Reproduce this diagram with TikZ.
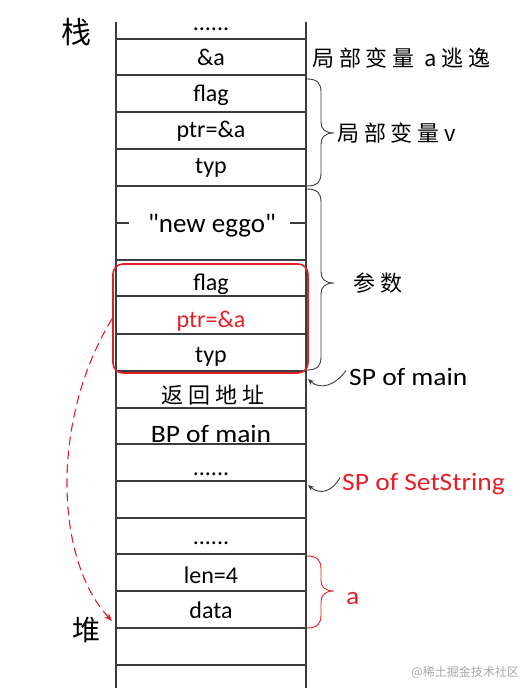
\documentclass[tikz,border=0pt]{standalone}
\usepackage{fontspec}
\setmainfont{Carlito}
\newfontfamily\widefont[FakeStretch=1.1]{Carlito}
\newfontfamily\eggfont{Carlito}
\newfontfamily\cjk{Noto Sans CJK SC}
\newfontfamily\cjkls[LetterSpace=22]{Noto Sans CJK SC}
\usetikzlibrary{arrows.meta}
\definecolor{myred}{RGB}{228,32,38}
\definecolor{myline}{RGB}{60,60,60}
\newcommand{\stackbrace}[4][]{%
  \draw[myline,line width=0.9bp,#1] (307,#2) .. controls (318,#2) and (321,{#2+5}) .. (321,{#2+13})
    -- (321,{#4-11}) .. controls (321,{#4-4}) and (325,#4) .. (334,#4)
    .. controls (325,#4) and (321,{#4+4}) .. (321,{#4+11})
    -- (321,{#3-13}) .. controls (321,{#3-5}) and (318,#3) .. (307,#3);}
\begin{document}
\begin{tikzpicture}[x=1bp,y=-1bp,
  cell/.style={font=\fontsize{24bp}{27bp}\selectfont, inner sep=0pt, anchor=base},
  lab/.style={font=\widefont\fontsize{25bp}{28bp}\selectfont, inner sep=0pt, anchor=base west},
  cjklab/.style={font=\cjkls\fontsize{22bp}{26bp}\selectfont, inner sep=0pt, anchor=west},
  grid/.style={draw=myline, line width=1.1bp},
  sparrow/.style={draw=myline, line width=0.9bp, -{Stealth[length=6bp,width=5bp]}}]
\useasboundingbox (0,0) rectangle (521,694);
% stack frame
\draw[grid] (116,22) -- (116,688);
\draw[grid] (306,22) -- (306,688);
\foreach \y in {39,75,112,149,186,260,296,334,371,408,444,481,518,554,591,628,665}
  \draw[grid] (116,\y) -- (306,\y);
\draw[grid] (116,223) -- (129,223);
\draw[grid] (290,223) -- (306,223);
% side labels
\node[font=\cjk\fontsize{30bp}{34bp}\selectfont, inner sep=0pt] (zhan) at (76,32) {栈};
\node[font=\cjk\fontsize{28bp}{32bp}\selectfont, inner sep=0pt] (dui) at (86,630) {堆};
% cells
\node[cell] (d1) at (211,31) {......};
\node[cell] (c1) at (211,66) {\&a};
\node[cell] (c2) at (211,102) {flag};
\node[cell] (c3) at (211,138) {ptr=\&a};
\node[cell] (c4) at (211,173) {typ};
\node[cell, font=\eggfont\fontsize{27bp}{30bp}\selectfont] (egg) at (212,232) {"new eggo"};
\node[cell] (f2) at (211,290) {flag};
\node[cell, text=myred] (p2) at (211,327) {ptr=\&a};
\node[cell] (t2) at (211,362) {typ};
\node[font=\cjkls\fontsize{22bp}{26bp}\selectfont, inner sep=0pt] (ret) at (213,395) {返回地址};
\node[cell, font=\widefont\fontsize{25bp}{28bp}\selectfont] (bp) at (211,442) {BP of main};
\node[cell] (d2) at (211,475) {......};
\node[cell] (d3) at (211,544) {......};
\node[cell] (len) at (211,583) {len=4};
\node[cell] (data) at (211,618) {data};
% red box
\node[draw=myred, line width=1.6bp, rounded corners=10bp, minimum width=195bp, minimum height=109bp, inner sep=0pt] (box) at (210.5,318.5) {};
% right labels
\node[cjklab] (esc) at (312,58) {局部变量 a逃逸};
\node[cjklab] (lv) at (337,133) {局部变量v};
\node[cjklab] (arg) at (353,283) {参数};
\node[lab, text=myred] (alab) at (346,604) {a};
\node[lab] (spm) at (349,385) {SP of main};
\node[lab, text=myred] (sps) at (342,490) {SP of SetString};
% braces
\stackbrace{79}{186}{133}
\stackbrace{189}{370}{283}
\stackbrace[draw=myred]{556}{628}{591}
% SP arrows
\coordinate (spmtip) at (308,379);
\coordinate (spstip) at (308,485);
\draw[sparrow] (spm.west) ++(-3,-6) .. controls (335,386) and (320,390) .. (spmtip);
\draw[sparrow] (sps.west) ++(-2,-6) .. controls (332,492) and (320,495) .. (spstip);
% pointer to heap
\coordinate (heap) at (112,621);
\draw[myred, line width=1.1bp, dash pattern=on 9bp off 5bp, -{Stealth[length=8bp,width=6bp]}] (box.west) .. controls (50,420) and (55,560) .. (heap);
% watermark
\node[font=\cjk\fontsize{12bp}{14bp}\selectfont, text=gray!70, inner sep=0pt, anchor=east] (wm) at (519,672) {@稀土掘金技术社区};
\end{tikzpicture}
\end{document}
